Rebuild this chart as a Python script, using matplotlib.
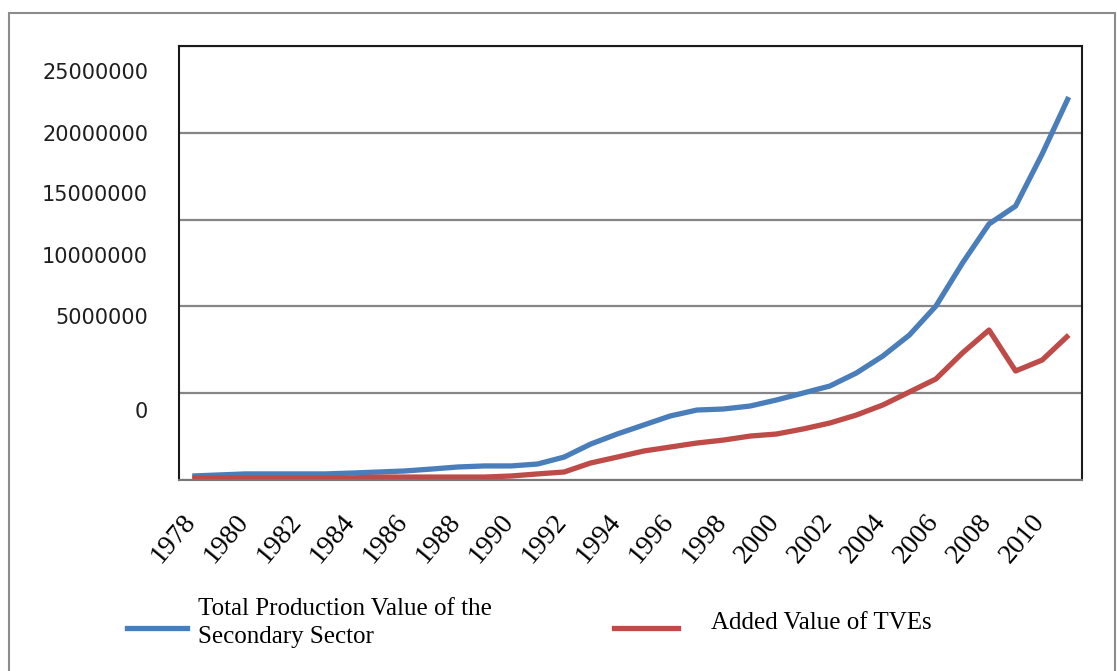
import numpy as np
import matplotlib
matplotlib.use("Agg")
import matplotlib.pyplot as plt
from matplotlib.lines import Line2D
from matplotlib.patches import Rectangle
from matplotlib.transforms import ScaledTranslation

years = list(range(1978, 2012))
total_secondary = [230000, 290000, 350000, 350000, 350000, 350000, 400000, 460000,
                   520000, 630000, 750000, 810000, 810000, 920000, 1320000, 2070000,
                   2650000, 3170000, 3690000, 4030000, 4090000, 4260000, 4610000, 5010000,
                   5410000, 6160000, 7140000, 8350000, 10020000, 12500000, 14750000,
                   15780000, 18780000, 22060000]
added_tve = [120000, 120000, 120000, 120000, 120000, 120000, 120000, 170000,
             170000, 170000, 170000, 170000, 230000, 350000, 460000, 980000,
             1320000, 1670000, 1900000, 2130000, 2300000, 2530000, 2650000, 2940000,
             3280000, 3740000, 4320000, 5070000, 5820000, 7320000, 8640000,
             6280000, 6910000, 8350000]
ytick_labels = ["25000000", "20000000", "15000000", "10000000", "5000000", "0"]
series_names = ["Total Production Value of the\nSecondary Sector", "Added Value of TVEs"]

blue = "#4A7EBB"
red = "#BE4B48"

fig = plt.figure(figsize=(11.17, 6.71), dpi=100)
W, H = 1117, 671

# outer frame of the picture
fig.add_artist(Rectangle((9 / W, -0.05), (1115 - 9) / W, 1 - 13 / H + 0.05,
                         transform=fig.transFigure, fill=False,
                         edgecolor="#8c8c8c", linewidth=1.5))

ax = fig.add_axes([179 / W, 1 - 480 / H, (1082 - 179) / W, (480 - 46) / H])
x = np.arange(len(years))
ax.plot(x, total_secondary, color=blue, linewidth=3.8, solid_capstyle="butt")
ax.plot(x, added_tve, color=red, linewidth=3.8, solid_capstyle="butt")

ax.set_xlim(-0.5, len(years) - 0.5)
ax.set_ylim(0, 25000000)
ax.set_yticks(np.arange(0, 25000001, 5000000))
ax.set_yticklabels([])
ax.tick_params(axis="y", length=0)
ax.grid(axis="y", color="#868686", linewidth=1.6)
ax.set_axisbelow(True)
for s in ax.spines.values():
    s.set_color("#1a1a1a")
    s.set_linewidth(1.5)
ax.spines["bottom"].set_color("#777777")

# y labels as they appear (offset from the gridlines)
label_pos = [0.938, 0.795, 0.657, 0.514, 0.373, 0.157]
for lab, p in zip(ytick_labels, label_pos):
    ax.text(148 / W, 1 - 480 / H + p * (480 - 46) / H, lab, transform=fig.transFigure,
            ha="right", va="center", fontsize=15, family="DejaVu Sans", color="#1e1e1e")

ax.set_xticks(x[::2])
ax.set_xticklabels([str(y) for y in years[::2]], rotation=50, ha="right",
                   rotation_mode="anchor", fontsize=20, family="Liberation Serif")
ax.tick_params(axis="x", length=0, pad=21)
shift = ScaledTranslation(-0.11, 0, fig.dpi_scale_trans)
for t in ax.get_xticklabels():
    t.set_transform(t.get_transform() + shift)

# legend
fig.add_artist(Line2D([127 / W, 187 / W], [1 - 628 / H] * 2, color=blue, linewidth=3.8,
                      transform=fig.transFigure))
fig.text(198 / W, 1 - 623 / H, series_names[0], ha="left", va="center", fontsize=18,
         family="Liberation Serif", linespacing=1.35)
fig.add_artist(Line2D([614 / W, 678 / W], [1 - 628 / H] * 2, color=red, linewidth=3.8,
                      transform=fig.transFigure))
fig.text(711 / W, 1 - 623 / H, series_names[1], ha="left", va="center", fontsize=18,
         family="Liberation Serif")

fig.savefig("out.png", dpi=100)
